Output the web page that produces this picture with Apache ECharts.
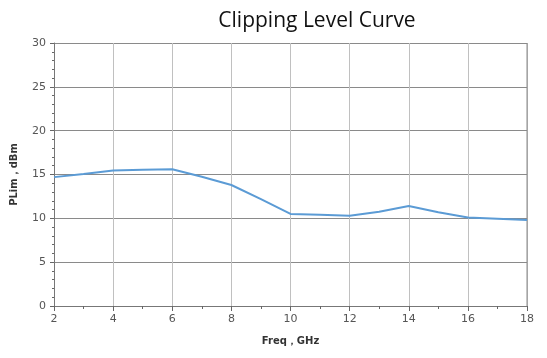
<!DOCTYPE html>
<html>
<head>
<meta charset="utf-8">
<script src="https://cdn.jsdelivr.net/npm/echarts@6/dist/echarts.min.js"></script>
<style>
  html, body { margin: 0; padding: 0; background: #fff; }
  #chart { width: 547px; height: 358px; }
</style>
</head>
<body>
<div id="chart"></div>
<script>
// Frequency points (GHz) and clipping level (dBm)
const freqGHz = [2, 3, 4, 5, 6, 7, 8, 9, 10, 11, 12, 13, 14, 15, 16, 17, 18];
const plimDbm = [14.7, 15.05, 15.45, 15.55, 15.6, 14.75, 13.8, 12.2, 10.5, 10.4, 10.3, 10.75, 11.4, 10.7, 10.1, 9.95, 9.8];

const chart = echarts.init(document.getElementById('chart'));
const tickFont = { color: '#555', fontSize: 11, fontFamily: 'DejaVu Sans' };

chart.setOption({
  animation: false,
  title: {
    text: 'Clipping Level Curve',
    left: 312, top: 6, textAlign: 'center',
    textStyle: { fontFamily: 'Open Sans', fontWeight: 'normal', fontSize: 21, color: '#111' }
  },
  grid: { left: 54, right: 20, top: 43, bottom: 52 },
  xAxis: {
    type: 'value', min: 2, max: 18, interval: 2,
    name: 'Freq，GHz', nameLocation: 'middle', nameGap: 30,
    nameTextStyle: { fontSize: 10, fontWeight: 'bold', color: '#333', fontFamily: 'DejaVu Sans' },
    axisLine: { show: true, lineStyle: { color: '#777' } },
    axisTick: { show: true, length: 5, lineStyle: { color: '#666' } },
    minorTick: { show: true, splitNumber: 2, length: 3, lineStyle: { color: '#666' } },
    axisLabel: Object.assign({ margin: 8 }, tickFont),
    splitLine: { show: true, lineStyle: { color: '#c0c0c0', width: 1 } }
  },
  yAxis: {
    type: 'value', min: 0, max: 30, interval: 5,
    name: 'PLim，dBm', nameLocation: 'middle', nameGap: 35,
    nameTextStyle: { fontSize: 10, fontWeight: 'bold', color: '#333', fontFamily: 'DejaVu Sans' },
    axisLine: { show: true, lineStyle: { color: '#777' } },
    axisTick: { show: true, length: 4, lineStyle: { color: '#666' } },
    minorTick: { show: true, splitNumber: 5, length: 2, lineStyle: { color: '#666' } },
    axisLabel: Object.assign({ margin: 8 }, tickFont),
    splitLine: { show: true, lineStyle: { color: '#8a8a8a', width: 1 } }
  },
  series: [{
    type: 'line',
    data: freqGHz.map((f, i) => [f, plimDbm[i]]),
    showSymbol: false,
    lineStyle: { color: '#5b9bd5', width: 2 },
    z: 5
  }, {
    // right-hand frame edge
    type: 'line',
    data: [[18, 0], [18, 30]],
    showSymbol: false, silent: true,
    lineStyle: { color: '#8a8a8a', width: 1 }
  }]
});
</script>
</body>
</html>
